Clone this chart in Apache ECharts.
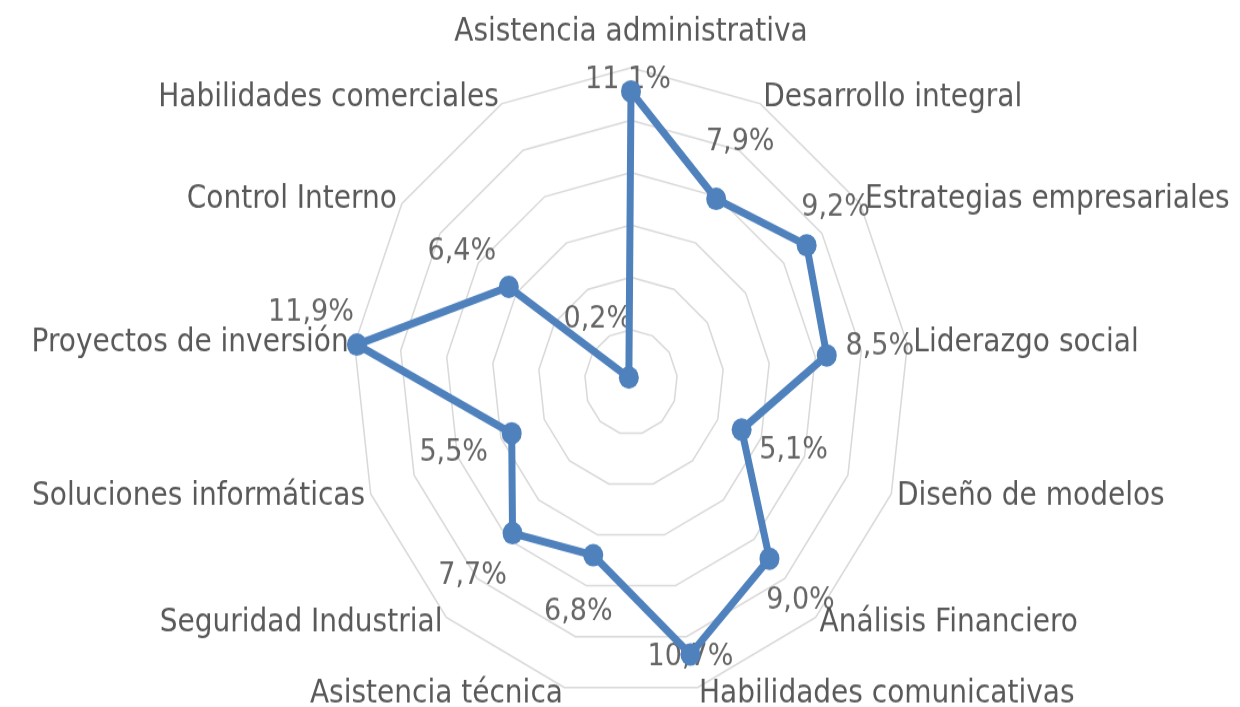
<!DOCTYPE html>
<html>
<head>
<meta charset="utf-8">
<script src="https://cdn.jsdelivr.net/npm/echarts@6/dist/echarts.min.js"></script>
<style>
html,body{margin:0;padding:0;background:#ffffff;overflow:hidden;}
#wrap{width:1240px;height:707px;overflow:hidden;position:relative;background:#ffffff;}
#chart{width:1240px;height:626px;transform:scaleY(1.1294);transform-origin:0 0;}
</style>
</head>
<body>
<div id="wrap"><div id="chart"></div></div>
<script>
// ---- data (clockwise from the top) ----
const categories = [
  'Asistencia administrativa',
  'Desarrollo integral',
  'Estrategias empresariales',
  'Liderazgo social',
  'Diseño de modelos',
  'Análisis Financiero',
  'Habilidades comunicativas',
  'Asistencia técnica',
  'Seguridad Industrial',
  'Soluciones informáticas',
  'Proyectos de inversión',
  'Control Interno',
  'Habilidades comerciales'
];
const values = [11.1, 7.9, 9.2, 8.5, 5.1, 9.0, 10.7, 6.8, 7.7, 5.5, 11.9, 6.4, 0.2];
const axisMin = 0;
const axisMax = 12;
const ringCount = 6;

// ---- layout / style (not data) ----
const labelOffsets = [[-3,-10],[24,-50],[29,-33],[53,-8],[52,19],[31,37],[0,3],[-15,50],[-40,38],[-58,17],[-46,-28],[-47,-31],[-31,-51]];
const CENTER = [631, 338.4];
const RADIUS = 278.4;
const FONT = 'DejaVu Sans';
const BLUE = '#4F81BD';

function fmt(v) { return v.toFixed(1).replace('.', ',') + '%'; }

// ECharts radar lays indicators counter-clockwise; reorder so the picture reads clockwise
const n = categories.length;
const order = [0];
for (let i = n - 1; i >= 1; i--) order.push(i);

const chart = echarts.init(document.getElementById('chart'), null, {renderer: 'canvas'});
chart.setOption({
  animation: false,
  backgroundColor: '#ffffff',
  radar: {
    center: CENTER,
    radius: RADIUS,
    startAngle: 90,
    splitNumber: ringCount,
    shape: 'polygon',
    nameGap: 6,
    indicator: order.map(i => ({name: categories[i], min: axisMin, max: axisMax})),
    axisName: {
      color: '#595959',
      fontSize: 28,
      fontFamily: FONT,
      formatter: function (name) {
        return name === categories[0] ? '{top|' + name + '}' : name;
      },
      rich: {
        top: {padding: [0, 0, 11, 0], color: '#595959', fontSize: 28, fontFamily: FONT}
      }
    },
    axisLine: {show: false},
    axisTick: {show: false},
    axisLabel: {show: false},
    splitArea: {show: false},
    splitLine: {lineStyle: {color: '#d9d9d9', width: 1.5}}
  },
  polar: {center: CENTER, radius: RADIUS},
  angleAxis: {
    type: 'value', min: 0, max: n, startAngle: 90, clockwise: true,
    axisLine: {show: false}, axisTick: {show: false}, axisLabel: {show: false}, splitLine: {show: false}
  },
  radiusAxis: {
    type: 'value', min: axisMin, max: axisMax,
    axisLine: {show: false}, axisTick: {show: false}, axisLabel: {show: false}, splitLine: {show: false}
  },
  series: [
    {
      type: 'scatter',
      coordinateSystem: 'polar',
      z: 1,
      silent: true,
      symbolSize: 1,
      itemStyle: {color: 'rgba(0,0,0,0)'},
      label: {
        show: true,
        position: 'inside',
        color: '#404040',
        fontSize: 27,
        fontFamily: FONT,
        formatter: function (p) { return fmt(p.value[0]); }
      },
      data: values.map((v, i) => ({value: [v, i], label: {offset: labelOffsets[i]}}))
    },
    {
      type: 'radar',
      z: 3,
      symbol: 'circle',
      symbolSize: 20,
      lineStyle: {color: BLUE, width: 7},
      itemStyle: {color: BLUE},
      label: {show: false},
      data: [{value: order.map(i => values[i]), name: 'Porcentaje'}]
    }
  ]
});
</script>
</body>
</html>
